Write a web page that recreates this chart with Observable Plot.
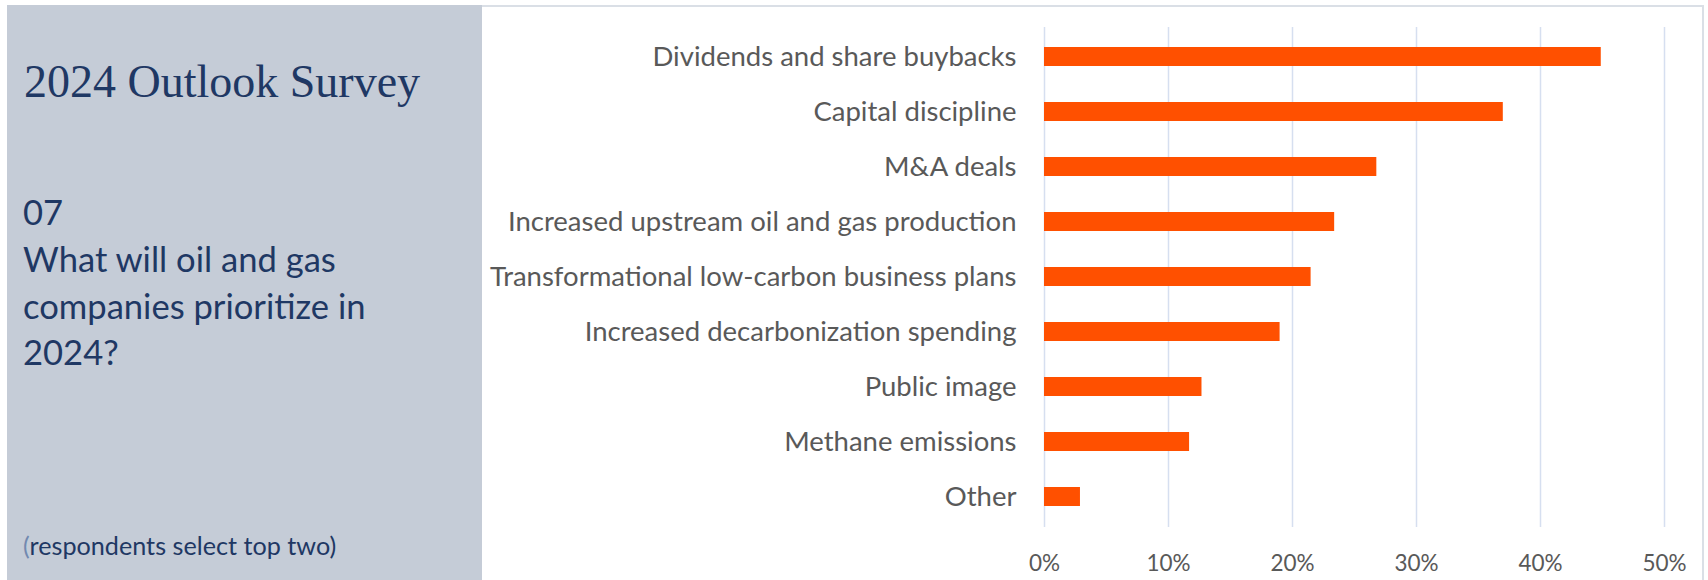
<!DOCTYPE html>
<html><head><meta charset="utf-8">
<script src="https://cdn.jsdelivr.net/npm/d3@7"></script>
<script src="https://cdn.jsdelivr.net/npm/@observablehq/plot@0.6"></script>
<style>
html,body{margin:0;padding:0;background:#fff;width:1708px;height:580px;overflow:hidden;}
#panel{position:absolute;left:7px;top:5px;width:475px;height:575px;background:#c5ccd7;color:#1f3864;}
#title{position:absolute;left:17px;top:54px;font-family:"Liberation Serif",serif;font-size:46px;line-height:1;white-space:nowrap;}
#q{position:absolute;left:16px;top:184px;font-family:Lato,sans-serif;font-size:34.6px;line-height:46.8px;white-space:nowrap;}
#note{position:absolute;left:16px;top:525px;font-family:Lato,sans-serif;font-size:25.2px;line-height:30px;white-space:nowrap;}
#frame{position:absolute;left:482px;top:5px;width:1222px;height:575px;border-top:2px solid #dadfe6;border-right:2px solid #dadfe6;box-sizing:border-box;}
#chart{position:absolute;left:482px;top:0;}
</style></head><body>
<div id="panel">
  <div id="title">2024 Outlook Survey</div>
  <div id="q">07<br>What will oil and gas<br>companies prioritize in<br>2024?</div>
  <div id="note"><span style="color:#7289b0">(</span>respondents select top two)</div>
</div>
<div id="frame"></div>
<div id="chart"></div>
<script>
const categories = [
  "Dividends and share buybacks",
  "Capital discipline",
  "M&A deals",
  "Increased upstream oil and gas production",
  "Transformational low-carbon business plans",
  "Increased decarbonization spending",
  "Public image",
  "Methane emissions",
  "Other"
];
const values = [44.9, 37.0, 26.8, 23.4, 21.5, 19.0, 12.7, 11.7, 2.9];
const tickValues = [0, 10, 20, 30, 40, 50];
const tickLabels = ["0%", "10%", "20%", "30%", "40%", "50%"];

const data = categories.map((c, i) => ({category: c, value: values[i]}));

const chart = Plot.plot({
  width: 1226,
  height: 580,
  marginLeft: 562,
  marginRight: 44,
  marginTop: 27,
  marginBottom: 53,
  style: {background: "transparent", fontFamily: "Lato, sans-serif", color: "#595959"},
  x: {domain: [0, 50], label: null},
  y: {domain: categories, paddingInner: 0.647, paddingOuter: 0.3235, label: null},
  marks: [
    Plot.gridX(tickValues, {stroke: "#d6dff0", strokeOpacity: 1, strokeWidth: 1.5}),
    Plot.barX(data, {x: "value", y: "category", fill: "#ff5000"}),
    Plot.axisX(tickValues, {tickSize: 0, tickPadding: 28, fontSize: 22.5, tickFormat: d => tickLabels[tickValues.indexOf(d)], label: null}),
    Plot.axisY({tickSize: 0, tickPadding: 28, fontSize: 27.5, label: null})
  ]
});
document.getElementById("chart").appendChild(chart);
</script>
</body></html>
